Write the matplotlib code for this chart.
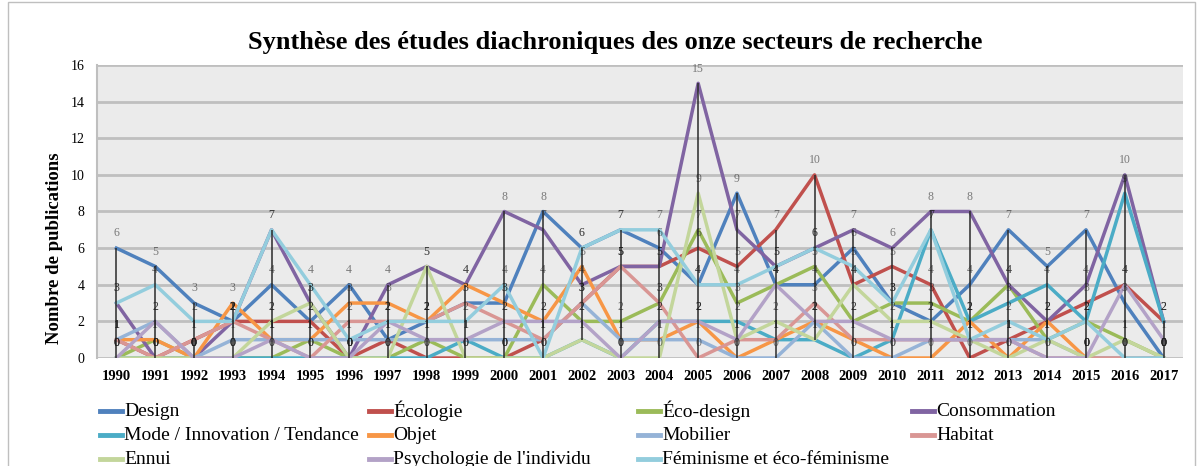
import numpy as np
import matplotlib.pyplot as plt
from matplotlib import lines, patches

years = list(range(1990, 2018))

names = ["Design", "Écologie", "Éco-design", "Consommation",
         "Mode / Innovation / Tendance", "Objet", "Mobilier", "Habitat",
         "Ennui", "Psychologie de l'individu", "Féminisme et éco-féminisme"]
colors = ["#4F81BD", "#C0504D", "#9BBB59", "#8064A2", "#4BACC6", "#F79646",
          "#95B3D7", "#D99694", "#C3D69B", "#B3A2C7", "#93CDDD"]

design       = [6, 5, 3, 2, 4, 2, 4, 1, 2, 3, 3, 8, 6, 7, 6, 4, 9, 4, 4, 6, 3, 2, 4, 7, 5, 7, 3, 0]
ecologie     = [1, 0, 1, 2, 2, 2, 0, 1, 0, 0, 0, 1, 3, 5, 5, 6, 5, 7, 10, 4, 5, 4, 0, 1, 2, 3, 4, 2]
eco_design   = [0, 1, 0, 0, 0, 1, 0, 0, 1, 0, 0, 4, 2, 2, 3, 7, 3, 4, 5, 2, 3, 3, 2, 4, 1, 2, 1, 0]
consommation = [3, 0, 0, 2, 7, 3, 0, 4, 5, 4, 8, 7, 4, 5, 5, 15, 7, 5, 6, 7, 6, 8, 8, 4, 2, 4, 10, 2]
mode         = [0, 0, 0, 0, 0, 0, 0, 0, 0, 1, 0, 0, 1, 0, 2, 2, 2, 1, 1, 0, 1, 7, 2, 3, 4, 2, 9, 2]
objet        = [1, 1, 0, 3, 1, 1, 3, 3, 2, 4, 3, 2, 5, 1, 1, 2, 0, 1, 2, 1, 0, 0, 2, 0, 2, 0, 0, 0]
mobilier     = [1, 2, 0, 1, 1, 1, 1, 1, 1, 1, 1, 1, 3, 1, 1, 1, 0, 0, 2, 0, 0, 1, 1, 1, 1, 0, 0, 0]
habitat      = [1, 0, 1, 2, 1, 0, 2, 2, 2, 3, 2, 1, 3, 5, 3, 0, 1, 1, 3, 1, 1, 1, 1, 1, 0, 0, 0, 0]
ennui        = [0, 0, 0, 0, 2, 3, 0, 0, 5, 0, 0, 0, 1, 0, 0, 9, 1, 2, 1, 4, 2, 2, 1, 0, 1, 0, 1, 0]
psychologie  = [0, 2, 0, 0, 1, 0, 0, 2, 1, 1, 2, 2, 2, 0, 2, 2, 1, 4, 2, 2, 1, 1, 1, 1, 0, 0, 4, 1]
feminisme    = [3, 4, 2, 2, 7, 4, 1, 2, 2, 2, 4, 0, 6, 7, 7, 4, 4, 5, 6, 5, 3, 7, 1, 2, 1, 2, 0, 0]

series = [design, ecologie, eco_design, consommation, mode, objet,
          mobilier, habitat, ennui, psychologie, feminisme]

plt.rcParams['font.family'] = ['Liberation Serif', 'DejaVu Serif']

W, H = 1203, 466
fig = plt.figure(figsize=(W / 100, H / 100), dpi=100)

# frame around the whole chart
fig.patches.append(patches.Rectangle((8 / W, -0.05), (1195 - 8) / W, 1.05 - 2 / H,
                                     transform=fig.transFigure, fill=False,
                                     edgecolor='#BFBFBF', lw=1))

ax = fig.add_axes([97 / W, 1 - 358 / H, (1183 - 97) / W, (358 - 65) / H])
ax.set_facecolor('#EBEBEB')
x = np.arange(len(years))

for v in range(0, 17, 2):
    ax.axhline(v, color='#BFBFBF', lw=2, zorder=1)

for s, c in zip(series, colors):
    ax.plot(x, s, color=c, lw=2.5, zorder=3)

# high-low lines
data = np.array(series)
ax.vlines(x, data.min(axis=0), data.max(axis=0), color='#2A2A2A', lw=1.1, zorder=4)

# value labels (overlapping ones come out darker)
for s in series:
    for xi, v in zip(x, s):
        ax.text(xi, v + 0.8, str(v), ha='center', va='center', fontsize=8.5,
                color='#1A1A1A', alpha=0.55, zorder=5)

ax.set_xlim(-0.5, len(years) - 0.5)
ax.set_ylim(0, 16)
ax.set_yticks(range(0, 17, 2))
ax.set_xticks(x)
ax.set_xticklabels([str(y) for y in years], fontweight='bold', fontsize=10.5)
ax.tick_params(axis='x', length=0, pad=9)
ax.tick_params(axis='y', length=0, pad=9, labelsize=10)
for side in ['top', 'right', 'bottom']:
    ax.spines[side].set_visible(False)
ax.spines['left'].set_color('#BFBFBF')
ax.spines['left'].set_linewidth(1.5)

fig.text(0.511, 1 - 43 / H, "Synthèse des études diachroniques des onze secteurs de recherche",
         ha='center', va='center', fontsize=19, fontweight='bold')
fig.text(55 / W, 1 - 248 / H, "Nombre de publications", rotation=90,
         ha='center', va='center', fontsize=13.5, fontweight='bold')

# legend, four columns, row by row
col_x = [100, 369, 638, 912]
row_y = [411, 435, 459]
for i, (name, c) in enumerate(zip(names, colors)):
    px = col_x[i % 4]
    py = row_y[i // 4]
    fig.add_artist(lines.Line2D([px / W, (px + 22) / W], [1 - py / H, 1 - py / H],
                                color=c, lw=3.5, transform=fig.transFigure))
    fig.text((px + 24) / W, 1 - py / H, name, ha='left', va='center', fontsize=14)

fig.savefig('out.png', dpi=100)
